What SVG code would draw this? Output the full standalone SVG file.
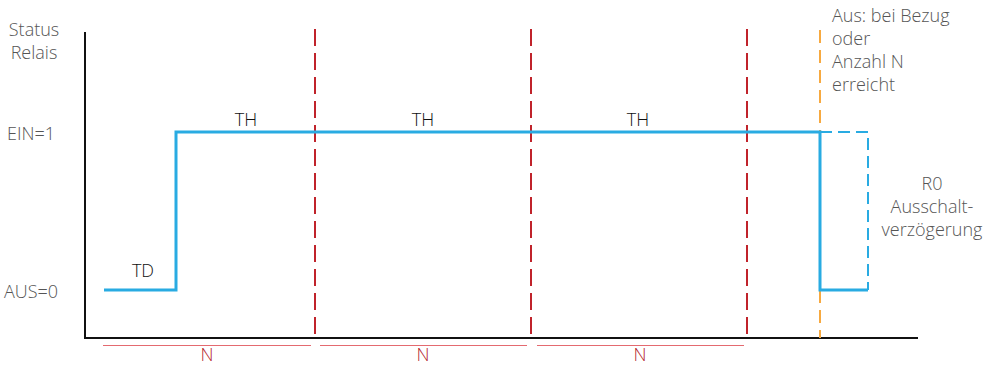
<svg xmlns="http://www.w3.org/2000/svg" width="1000" height="366" viewBox="0 0 1000 366">
<style>
text{font-family:"Open Sans","Noto Sans","Liberation Sans",sans-serif;font-size:18px;font-weight:300}
.lbl{fill:#555}
.dk{fill:#111}
.n{fill:#b5262e}
.red{stroke:#c0232b;stroke-width:2;stroke-dasharray:17 7;fill:none}
.org{stroke:#f7a940;stroke-width:2;stroke-dasharray:13 7;fill:none}
.sig{stroke:#29abe2;stroke-width:3;fill:none}
.sigd{stroke:#29abe2;stroke-width:2;stroke-dasharray:12 6;fill:none}
.ul{stroke:#e46a70;stroke-width:1}
</style>
<g id="axes"><path d="M85,32 V338 H918" stroke="#111" stroke-width="2" fill="none"/></g>
<g id="labels-y">
<text class="lbl" x="34" y="36" text-anchor="middle">Status</text>
<text class="lbl" x="34" y="59" text-anchor="middle">Relais</text>
<text class="lbl" x="7" y="140">EIN=1</text>
<text class="lbl" x="4" y="298">AUS=0</text>
</g>
<g id="connectors">
<line class="red" x1="315" y1="29" x2="315" y2="340"/>
<line class="red" x1="531" y1="29" x2="531" y2="340"/>
<line class="red" x1="747" y1="29" x2="747" y2="340"/>
<line class="org" x1="820" y1="30" x2="820" y2="338"/>
<path class="sig" d="M104,290 H176 V132 H820 V290 H868"/>
<path class="sigd" d="M820,132 H868 V290"/>
<line class="ul" x1="103" y1="345.5" x2="311" y2="345.5"/>
<line class="ul" x1="320" y1="345.5" x2="527" y2="345.5"/>
<line class="ul" x1="537" y1="345.5" x2="744" y2="345.5"/>
</g>
<g id="texts">
<text class="dk" x="143" y="277" text-anchor="middle">TD</text>
<text class="dk" x="246" y="126" text-anchor="middle">TH</text>
<text class="dk" x="423" y="126" text-anchor="middle">TH</text>
<text class="dk" x="638" y="126" text-anchor="middle">TH</text>
<text class="n" x="207" y="361" text-anchor="middle">N</text>
<text class="n" x="423" y="361" text-anchor="middle">N</text>
<text class="n" x="640" y="361" text-anchor="middle">N</text>
<text class="lbl" x="832" y="22">Aus: bei Bezug</text>
<text class="lbl" x="832" y="45">oder</text>
<text class="lbl" x="832" y="68">Anzahl N</text>
<text class="lbl" x="832" y="91">erreicht</text>
<text class="lbl" x="932" y="190" text-anchor="middle">R0</text>
<text class="lbl" x="932" y="213" text-anchor="middle">Ausschalt-</text>
<text class="lbl" x="932" y="236" text-anchor="middle">verzögerung</text>
</g>
</svg>
